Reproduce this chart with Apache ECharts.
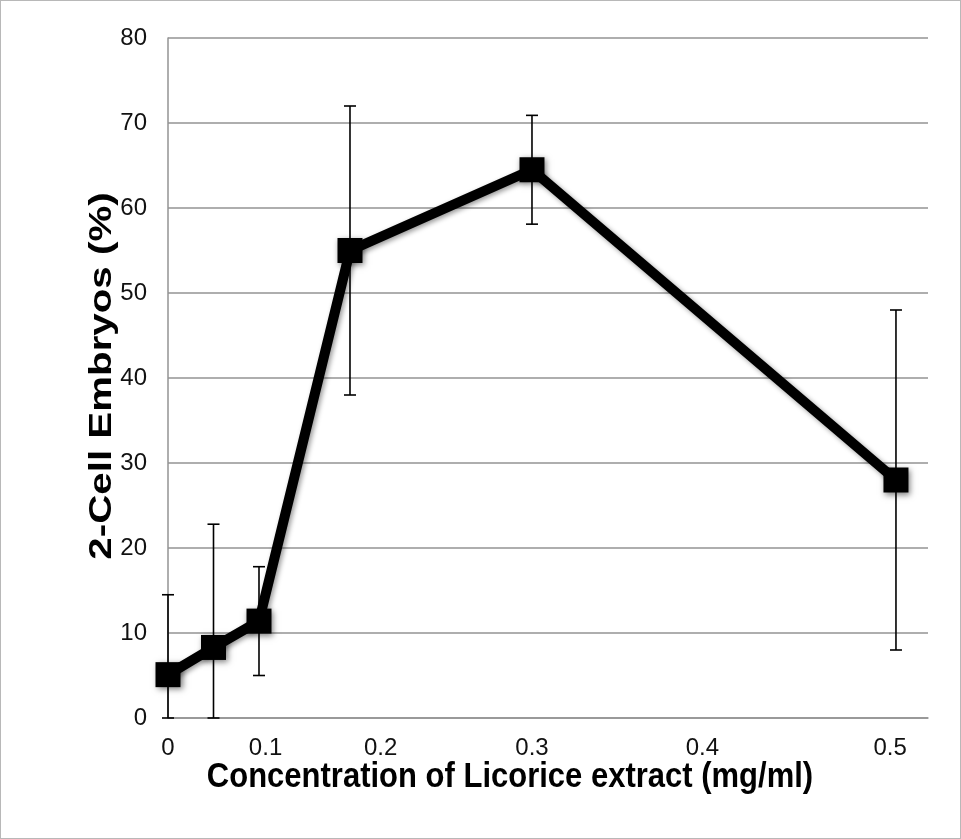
<!DOCTYPE html>
<html>
<head>
<meta charset="utf-8">
<script src="https://cdn.jsdelivr.net/npm/echarts@6/dist/echarts.min.js"></script>
<style>
  html, body { margin: 0; padding: 0; background: #fff; }
  #chart { width: 961px; height: 839px; }
  #frame { position: absolute; left: 0; top: 0; width: 961px; height: 839px;
           box-sizing: border-box; border: 1px solid #b8b8b8; pointer-events: none; }
</style>
</head>
<body>
<div id="chart"></div>
<div id="frame"></div>
<script>
// licorice extract concentration (mg/ml), serial dilutions
const concentrations = [0, 0.03125, 0.0625, 0.125, 0.25, 0.5];
// 2-cell embryos (%) and error (+/-)
const embryos = [5.1, 8.3, 11.4, 55.0, 64.5, 28.0];
const errors = [9.4, 14.5, 6.4, 17.0, 6.4, 20.0];
// x tick labels as placed in the original figure
const xTickValues = [0, 0.067, 0.146, 0.25, 0.367, 0.496];
const xTickLabels = ['0', '0.1', '0.2', '0.3', '0.4', '0.5'];
const xTitle = 'Concentration of Licorice extract (mg/ml)';
const yTitle = '2-Cell Embryos (%)';

const font = "'Liberation Sans', Arial, sans-serif";
const gridColor = '#939393';

const lineData = concentrations.map((c, i) => [c, embryos[i]]);
const errData = concentrations.map((c, i) => [
  c,
  Math.max(0, embryos[i] - errors[i]),
  embryos[i] + errors[i]
]);

const chart = echarts.init(document.getElementById('chart'), null, { renderer: 'canvas' });

// the titles in the original are a bit stretched vertically, so draw them as scaled text
const titleStyle = (text) => ({
  text: text,
  fontSize: 31,
  fontWeight: 'bold',
  fontFamily: font,
  fill: '#000',
  align: 'center',
  verticalAlign: 'middle'
});

chart.setOption({
  backgroundColor: '#ffffff',
  animation: false,
  grid: { left: 168, right: 33, top: 38, bottom: 121 },
  graphic: [
    { type: 'text', x: 510, y: 777, scaleY: 1.13, style: titleStyle(xTitle) },
    { type: 'text', x: 102, y: 376, rotation: Math.PI / 2, scaleX: 1.3, style: titleStyle(yTitle) }
  ],
  xAxis: {
    type: 'value',
    min: 0,
    max: 0.522,
    splitLine: { show: false },
    axisTick: { show: false },
    axisLine: { show: true, lineStyle: { color: gridColor, width: 1.5 } },
    axisLabel: {
      customValues: xTickValues,
      margin: 18,
      fontSize: 24,
      color: '#111',
      fontFamily: font,
      formatter: v => {
        let best = 0;
        xTickValues.forEach((t, i) => {
          if (Math.abs(t - v) < Math.abs(xTickValues[best] - v)) best = i;
        });
        return xTickLabels[best];
      }
    }
  },
  yAxis: {
    type: 'value',
    min: 0,
    max: 80,
    interval: 10,
    axisTick: { show: false },
    axisLine: { show: true, lineStyle: { color: gridColor, width: 1.5 } },
    splitLine: { show: true, lineStyle: { color: gridColor, width: 1.5 } },
    axisLabel: { margin: 21, fontSize: 24, color: '#111', fontFamily: font }
  },
  series: [
    {
      type: 'custom',
      name: 'error',
      z: 1,
      data: errData,
      renderItem: (params, api) => {
        const x = api.value(0);
        const lo = api.coord([x, api.value(1)]);
        const hi = api.coord([x, api.value(2)]);
        const cap = 6;
        const style = { stroke: '#000', lineWidth: 1.6 };
        return {
          type: 'group',
          children: [
            { type: 'line', shape: { x1: lo[0], y1: lo[1], x2: hi[0], y2: hi[1] }, style },
            { type: 'line', shape: { x1: hi[0] - cap, y1: hi[1], x2: hi[0] + cap, y2: hi[1] }, style },
            { type: 'line', shape: { x1: lo[0] - cap, y1: lo[1], x2: lo[0] + cap, y2: lo[1] }, style }
          ]
        };
      }
    },
    {
      type: 'line',
      name: '2-Cell Embryos',
      z: 3,
      data: lineData,
      symbol: 'rect',
      symbolSize: 25,
      lineStyle: {
        color: '#000', width: 10,
        shadowBlur: 5, shadowOffsetX: 2, shadowOffsetY: 2, shadowColor: 'rgba(0,0,0,0.4)'
      },
      itemStyle: {
        color: '#000',
        shadowBlur: 6, shadowOffsetX: 2, shadowOffsetY: 2, shadowColor: 'rgba(0,0,0,0.5)'
      }
    }
  ]
});
</script>
</body>
</html>
